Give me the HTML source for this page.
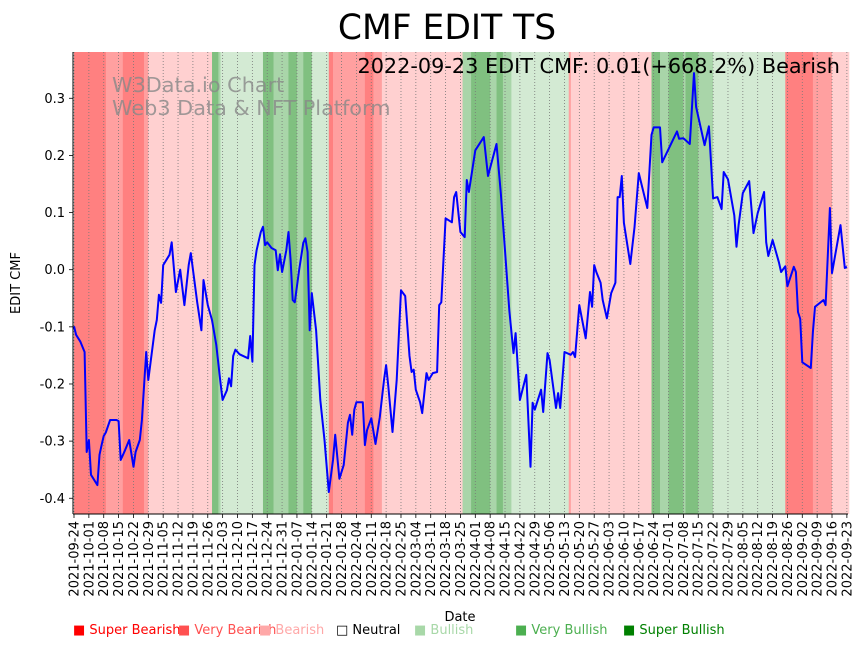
<!DOCTYPE html>
<html><head><meta charset="utf-8"><style>
body{margin:0;background:#fff;}
svg{display:block;font-family:"DejaVu Sans","Liberation Sans",sans-serif;}
</style></head><body>
<svg id="chart" width="864" height="646" xmlns="http://www.w3.org/2000/svg">
<text x="447" y="39" font-size="34.5" text-anchor="middle" fill="#000">CMF EDIT TS</text>
<g id="plot"></g>
<text x="112" y="92" font-size="20.8" fill="#888" fill-opacity="0.8">W3Data.io Chart</text>
<text x="112" y="115" font-size="20.8" fill="#888" fill-opacity="0.8">Web3 Data &amp; NFT Platform</text>
<text x="840" y="73" font-size="20.8" text-anchor="end" fill="#000">2022-09-23 EDIT CMF: 0.01(+668.2%) Bearish</text>
<text x="460" y="621" font-size="13" text-anchor="middle">Date</text>
<text x="20" y="283" font-size="13" text-anchor="middle" transform="rotate(-90 20 283)">EDIT CMF</text>
<g font-size="13">
<text x="73" y="634" fill="#ff0000">■ Super Bearish</text>
<text x="178" y="634" fill="#ff5050">■ Very Bearish</text>
<text x="259" y="634" fill="#ffa8a8">■ Bearish</text>
<text x="336" y="634" fill="#000">□ Neutral</text>
<text x="414" y="634" fill="#a8d8a8">■ Bullish</text>
<text x="515" y="634" fill="#4caf50">■ Very Bullish</text>
<text x="623" y="634" fill="#008000">■ Super Bullish</text>
</g>
</svg>
<script>
const dayOffsets=[0,1,3,5,6,7,8,11,12,13,14,15,17,20,21,22,24,26,28,29,31,32,34,35,38,39,40,41,42,45,46,48,50,52,54,55,58,60,61,63,65,67,69,70,72,73,74,75,76,78,82,83,84,85,86,88,89,90,91,93,95,96,97,98,100,101,102,103,104,106,108,109,110,111,112,114,116,118,120,122,123,125,127,129,130,131,132,133,136,137,138,140,142,144,146,147,148,150,152,154,156,158,159,160,161,163,164,166,167,169,171,172,173,175,178,179,180,182,184,185,186,189,193,195,199,201,203,205,207,208,210,213,215,216,217,220,221,223,224,227,228,229,231,234,235,236,238,241,243,244,245,246,248,249,251,253,255,256,257,258,259,262,264,266,270,272,273,276,277,284,285,287,290,292,293,297,299,301,303,305,306,308,311,312,313,315,318,320,322,325,326,327,329,332,333,335,336,339,340,341,342,343,347,348,349,353,354,356,357,361,363,364];
const cmfValues=[-0.099,-0.114,-0.126,-0.144,-0.319,-0.298,-0.359,-0.377,-0.324,-0.307,-0.291,-0.285,-0.263,-0.263,-0.265,-0.333,-0.316,-0.298,-0.345,-0.319,-0.298,-0.263,-0.144,-0.193,-0.106,-0.088,-0.044,-0.058,0.008,0.026,0.048,-0.039,0.0,-0.062,0.008,0.029,-0.057,-0.106,-0.018,-0.062,-0.088,-0.132,-0.198,-0.228,-0.211,-0.190,-0.204,-0.151,-0.140,-0.148,-0.155,-0.116,-0.161,0.008,0.034,0.066,0.075,0.043,0.048,0.038,0.034,-0.001,0.027,-0.004,0.034,0.066,0.017,-0.053,-0.057,-0.001,0.047,0.055,0.031,-0.106,-0.041,-0.106,-0.228,-0.298,-0.389,-0.333,-0.289,-0.366,-0.342,-0.268,-0.254,-0.289,-0.245,-0.232,-0.232,-0.307,-0.281,-0.260,-0.305,-0.258,-0.193,-0.167,-0.202,-0.284,-0.193,-0.036,-0.046,-0.151,-0.179,-0.175,-0.210,-0.232,-0.251,-0.181,-0.193,-0.181,-0.179,-0.062,-0.057,0.090,0.083,0.127,0.136,0.066,0.057,0.157,0.136,0.209,0.232,0.164,0.220,0.134,0.034,-0.071,-0.146,-0.111,-0.228,-0.184,-0.345,-0.233,-0.245,-0.210,-0.249,-0.146,-0.158,-0.242,-0.216,-0.242,-0.144,-0.149,-0.144,-0.153,-0.062,-0.120,-0.039,-0.065,0.008,-0.004,-0.023,-0.053,-0.085,-0.041,-0.023,0.127,0.127,0.164,0.082,0.010,0.074,0.169,0.108,0.236,0.249,0.249,0.188,0.242,0.229,0.230,0.220,0.344,0.285,0.218,0.251,0.125,0.127,0.106,0.171,0.158,0.095,0.040,0.078,0.134,0.155,0.064,0.099,0.136,0.048,0.024,0.052,0.013,-0.004,0.006,-0.029,0.005,-0.004,-0.074,-0.086,-0.162,-0.172,-0.109,-0.065,-0.053,-0.062,0.108,-0.006,0.078,0.003,0.005];
const bandStarts=[0,15,23,33,35,65,68,69,89,94,101,105,108,112,120,122,137,141,145,183,187,196,199,202,206,233,234,272,276,280,287,288,294,301,335,348,357];
const bandLevels=[-3,-2,-3,-2,-1,3,2,1,3,2,3,2,3,1,-3,-2,-3,-2,-1,2,3,2,3,2,1,-2,-1,3,2,3,2,3,2,1,-3,-2,-1];
const yTicks=[0.3,0.2,0.1,0.0,-0.1,-0.2,-0.3,-0.4];
const startDate=new Date(Date.UTC(2021,8,24));
const totalDays=365;

const L=73,R=848,T=52,B=514;
const x=d=>L+(d/totalDays)*(R-L)+1;
const y=v=>269.7-v*571.4;
const colors={"-3":"#ff8080","-2":"#ffa0a0","-1":"#ffd0d0","1":"#d3ead3","2":"#a9d5a9","3":"#80c080"};
const NS="http://www.w3.org/2000/svg";
const plot=document.getElementById('plot');
function mk(t,a){const e=document.createElementNS(NS,t);for(const k in a)e.setAttribute(k,a[k]);return e;}

for(let i=0;i<bandStarts.length;i++){
  const s=bandStarts[i],e=i+1<bandStarts.length?bandStarts[i+1]:totalDays;
  const r=mk('rect',{x:x(s),y:T,width:x(e)-x(s)+0.3,height:B-T,fill:colors[bandLevels[i]]});
  
  
  plot.appendChild(r);
}
for(let d=0;d<totalDays;d+=7){
  const xx=x(d);
  const g=mk('line',{x1:xx,x2:xx,y1:T,y2:B,stroke:'#777','stroke-width':0.8,'stroke-dasharray':'1,2'});
  
  
  plot.appendChild(g);
  plot.appendChild(mk('line',{x1:xx,x2:xx,y1:B,y2:B+4,stroke:'#000','stroke-width':0.8}));
  const dt=new Date(startDate.getTime()+d*86400000);
  const lab=dt.toISOString().slice(0,10);
  const t=mk('text',{x:xx+4.5,y:B+7,'font-size':13,'text-anchor':'end',transform:`rotate(-90 ${xx+4.5} ${B+7})`});
  
  
  t.textContent=lab;plot.appendChild(t);
}
yTicks.forEach(v=>{
  const yy=y(v);
  plot.appendChild(mk('line',{x1:L-4,x2:L,y1:yy,y2:yy,stroke:'#000','stroke-width':0.8}));
  const t=mk('text',{x:L-8,y:yy+4.5,'font-size':13,'text-anchor':'end'});
  
  
  t.textContent=v.toFixed(1);plot.appendChild(t);
});
const pts=dayOffsets.map((d,i)=>x(d).toFixed(1)+','+y(cmfValues[i]).toFixed(1)).join(' ');
const line=mk('polyline',{points:pts,fill:'none',stroke:'#0000ff','stroke-width':2,'stroke-linejoin':'round'});


plot.appendChild(line);
plot.appendChild(mk('line',{x1:L,x2:L,y1:T,y2:B,stroke:'#000','stroke-width':1}));
plot.appendChild(mk('line',{x1:L,x2:R,y1:B,y2:B,stroke:'#000','stroke-width':1}));
</script>
</body></html>
